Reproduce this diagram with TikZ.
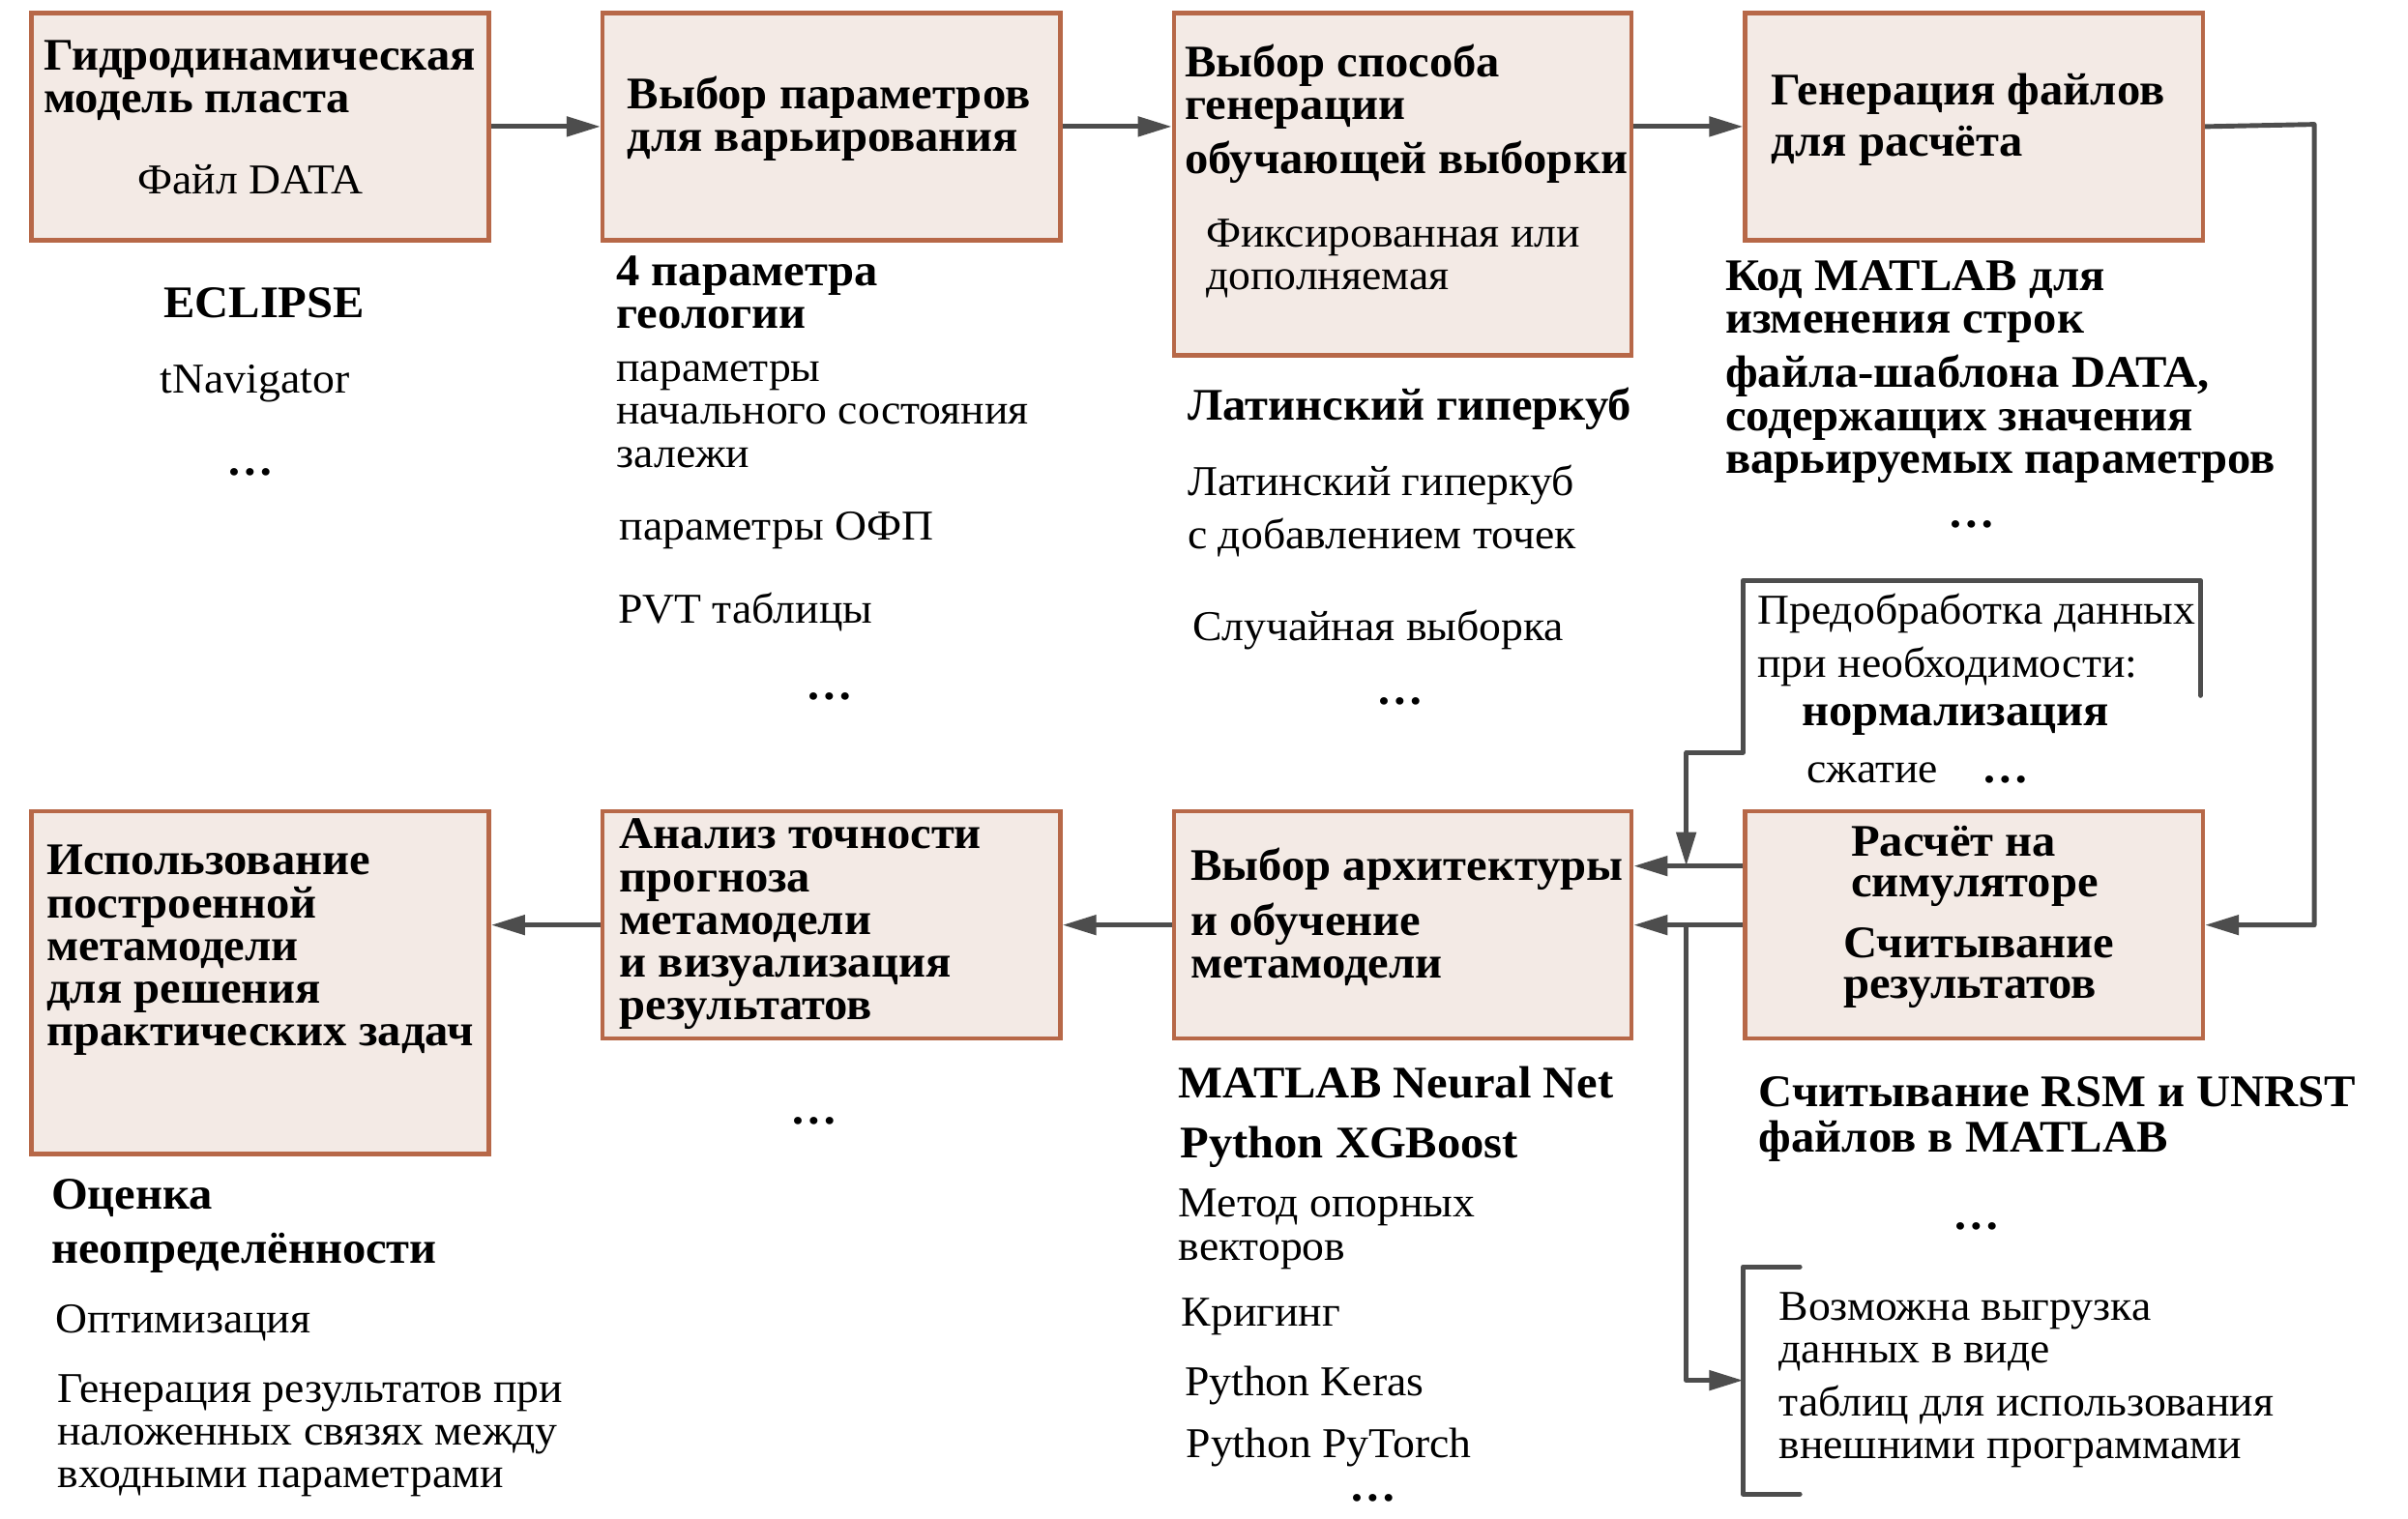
\documentclass[tikz,border=0pt]{standalone}
\usepackage{fontspec}
\setmainfont[FakeStretch=1.04]{Liberation Serif}
\usetikzlibrary{arrows.meta, positioning}
\definecolor{boxfill}{RGB}{243,234,229}
\definecolor{boxdraw}{RGB}{183,104,72}
\definecolor{arrgray}{RGB}{77,77,77}

\begin{document}
\begin{tikzpicture}[x=0.1588mm, y=-0.1588mm,
          box/.style={draw=boxdraw, fill=boxfill, line width=1.3pt, anchor=north west,
              inner sep=0pt, minimum width=4.732cm, minimum height=2.35cm},
          ttl/.style={font=\fontsize{13.3}{12.6}\selectfont\bfseries, align=left, anchor=west, inner sep=0pt},
          txt/.style={font=\fontsize{12.5}{12.6}\selectfont, align=left, anchor=west, inner sep=0pt},
          dots/.style={font=\fontsize{13.3}{12.6}\selectfont\bfseries, inner sep=0pt,
              text height=1.2mm, text depth=0pt},
          arr/.style={-{Triangle[length=0.35cm, width=0.2cm]}, arrgray, line width=1.4pt},
          ln/.style={arrgray, line width=1.4pt, line cap=round, line join=round}
        ]
        \useasboundingbox (0,0) rectangle (1568,989);
        % upper row
        \node[box] (hydro) at (19,7) {};
        \node[box] (param) at (391,7) {};
        \node[box, minimum height=3.541cm] (sampl) at (763,7) {};
        \node[box] (gen) at (1135,7) {};
        % lower row
        \node[box, minimum height=3.541cm] (use) at (19,527) {};
        \node[box] (anal) at (391,527) {};
        \node[box] (train) at (763,527) {};
        \node[box] (sim) at (1135,527) {};

        % texts, upper row
        \node[ttl] (hydroT) at (28,52.5) {Гидродинамическая\\модель пласта};
        \node[txt, anchor=center] (hydroF) at (163,117) {Файл DATA};
        \node[ttl, anchor=center] (ecl) at (172,197) {ECLIPSE};
        \node[txt, anchor=center] (tnav) at (166,250) {tNavigator};
        \node[dots] (hydroD) at (163,306) {\dots};

        \node[ttl] (paramT) at (408,77.5) {Выбор параметров\\для варьирования};
        \node[ttl] (geol) at (401,190.5) {4 параметра\\геологии};
        \node[txt] (init) at (401,270) {параметры\\начального состояния\\залежи};
        \node[txt] (ofp) at (403,345.5) {параметры ОФП};
        \node[txt] (pvt) at (402,398.5) {PVT таблицы};
        \node[dots] (paramD) at (540,452) {\dots};

        \node[ttl] (samplT) at (771,56.5) {Выбор способа\\генерации};
        \node[ttl] (samplT2) at (771,105.5) {обучающей выборки};
        \node[txt] (fix) at (785,168.5) {Фиксированная или\\дополняемая};
        \node[ttl] (lhc) at (773,266.5) {Латинский гиперкуб};
        \node[txt] (lhcp) at (773,333) {Латинский гиперкуб\\[1.1mm]с добавлением точек};
        \node[txt] (rnd) at (776,410.5) {Случайная выборка};
        \node[dots] (samplD) at (912,455) {\dots};

        \node[ttl] (genT) at (1153,78) {Генерация файлов\\[0.9mm]для расчёта};
        \node[ttl] (code) at (1123,196.5) {Код MATLAB для\\изменения строк};
        \node[ttl] (code2) at (1123,273) {файла-шаблона DATA,\\содержащих значения\\варьируемых параметров};
        \node[dots] (genD) at (1284,340) {\dots};

        \node[txt] (prep) at (1144,417) {Предобработка данных\\[1.1mm]при необходимости:};
        \node[ttl] (norm) at (1173,468.5) {нормализация};
        \node[txt] (comp) at (1176,503.5) {сжатие};
        \node[dots] (prepD) at (1306,506) {\dots};

        % texts, lower row
        \node[ttl] (simT) at (1205,564) {Расчёт на\\[-0.2mm]симуляторе};
        \node[ttl] (simR) at (1200,630.5) {Считывание\\[-0.2mm]результатов};
        \node[ttl] (rsm) at (1145,729) {Считывание RSM и UNRST\\[0.3mm]файлов в MATLAB};
        \node[dots] (simD) at (1287,797) {\dots};
        \node[txt] (expo) at (1158,867.5) {Возможна выгрузка\\данных в виде};
        \node[txt] (expo2) at (1158,929) {таблиц для использования\\внешними программами};

        \node[ttl] (trainT) at (775,566) {Выбор архитектуры};
        \node[ttl] (trainT2) at (775,615) {и обучение\\метамодели};
        \node[ttl] (mnn) at (767,705) {MATLAB Neural Net};
        \node[ttl] (xgb) at (768,747) {Python XGBoost};
        \node[txt] (svm) at (767,800.5) {Метод опорных\\векторов};
        \node[txt] (krig) at (769,857.5) {Кригинг};
        \node[txt] (keras) at (771,902.5) {Python Keras};
        \node[txt] (torch) at (772,943) {Python PyTorch};
        \node[dots] (trainD) at (894,974) {\dots};

        \node[ttl] (analT) at (403,602) {Анализ точности\\прогноза\\метамодели\\и визуализация\\результатов};
        \node[dots] (analD) at (530,728) {\dots};

        \node[ttl] (useT) at (30,619) {Использование\\построенной\\метамодели\\для решения\\практических задач};
        \node[ttl] (unc) at (33,798.5) {Оценка\\[1.1mm]неопределённости};
        \node[txt] (opt) at (36,861.5) {Оптимизация};
        \node[txt] (cons) at (37,935) {Генерация результатов при\\наложенных связях между\\входными параметрами};

        % connectors
        \coordinate (rt) at (1507,81);
        \coordinate (j1) at (1098,564);
        \coordinate (j2) at (1098,601.5);
        \coordinate (pb) at (1098,490);
        \coordinate (ob) at (1135,899);
        \draw[arr] (hydro) -- (param);
        \draw[arr] (param.east) -- (param.east -| sampl.west);
        \draw[arr] (gen.west -| sampl.east) -- (gen.west);
        \draw[arr, line join=round] (gen.east) -- (rt) |- (sim.east);
        \draw[arr] (sim.west |- j1) -- (train.east |- j1);
        \draw[arr] (sim.west) -- (train.east);
        \draw[ln] (1433,453) |- (1135,378) |- (pb);
        \draw[arr] (pb) -- (j1);
        \draw[arr, line join=round] (j2) |- (ob);
        \draw[ln] (1172,825) -- (1135,825) -- (1135,973) -- (1172,973);
        \draw[arr] (train.west) -- (anal.east);
        \draw[arr] (anal.west) -- (anal.west -| use.east);
      \end{tikzpicture}
\end{document}
